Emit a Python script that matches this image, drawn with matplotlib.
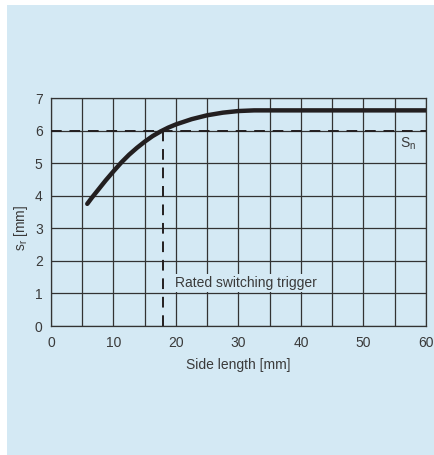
import matplotlib
matplotlib.use("Agg")
import matplotlib.pyplot as plt
from matplotlib.patches import Rectangle

plt.rcParams['font.family'] = ['Liberation Sans', 'DejaVu Sans']
plt.rcParams['mathtext.fontset'] = 'custom'
plt.rcParams['mathtext.rm'] = 'Liberation Sans'
plt.rcParams['mathtext.it'] = 'Liberation Sans'

# Data
side_length = [5.8, 6.5, 7.5, 8.75, 10, 11.25, 12.5, 13.75, 15, 16.25, 17.5, 18.75,
               20, 22.5, 25, 27.5, 30, 32.5, 35, 40, 50, 60]
s_r = [3.75, 3.93, 4.17, 4.47, 4.75, 5.02, 5.26, 5.47, 5.66, 5.83, 5.97, 6.09,
       6.19, 6.35, 6.47, 6.55, 6.60, 6.62, 6.62, 6.62, 6.62, 6.62]
s_n = 6.0
rated_x = 18.0
x_ticks = [0, 10, 20, 30, 40, 50, 60]
y_ticks = [0, 1, 2, 3, 4, 5, 6, 7]
x_grid = [0, 5, 10, 15, 20, 25, 30, 35, 40, 45, 50, 55, 60]

BLUE = '#d4e9f4'
DARK = '#231f20'
TXT = '#3a3a3a'

W, H = 435, 455
fig = plt.figure(figsize=(W / 100, H / 100), dpi=100)
fig.patch.set_facecolor('white')
fig.patches.append(Rectangle((7 / W, 0), 1 - 7 / W, 1 - 5 / H, transform=fig.transFigure,
                             facecolor=BLUE, edgecolor='none', zorder=-10))

ax = fig.add_axes([51 / W, 1 - 326 / H, (426 - 51) / W, (326 - 98) / H])
ax.set_facecolor(BLUE)
ax.set_xlim(0, 60)
ax.set_ylim(0, 7)

# grid
for gx in x_grid:
    ax.axvline(gx, color='#333333', lw=0.9, zorder=1)
for gy in y_ticks:
    ax.axhline(gy, color='#333333', lw=0.9, zorder=1)

for sp in ax.spines.values():
    sp.set_color('#333333')
    sp.set_linewidth(0.9)

ax.set_xticks(x_ticks)
ax.set_yticks(y_ticks)
ax.tick_params(length=0, labelsize=10, labelcolor=TXT)
ax.tick_params(axis='x', pad=7)
ax.tick_params(axis='y', pad=6)

# dashed reference lines
ax.plot([0, 60], [s_n, s_n], color=DARK, lw=1.4, ls=(0, (5.5, 4)), zorder=3)
ax.plot([rated_x, rated_x], [0, s_n], color=DARK, lw=1.4, ls=(0, (5.5, 4)), zorder=3)

# curve
ax.plot(side_length, s_r, color=DARK, lw=3.2, solid_capstyle='round',
        solid_joinstyle='round', zorder=4)

ax.text(19.8, 1.32, 'Rated switching trigger', fontsize=10, color=TXT, va='center', ha='left',
        bbox=dict(facecolor=BLUE, edgecolor='none', pad=1.5), zorder=5)
ax.text(55.8, 5.6, r'S$_\mathrm{n}$', fontsize=10, color=TXT, va='center', ha='left', zorder=5)

ax.set_xlabel('Side length [mm]', fontsize=10, color=TXT, labelpad=6)
ax.set_ylabel(r's$_\mathrm{r}$ [mm]', fontsize=10, color=TXT)
ax.yaxis.set_label_coords(-0.056, 0.43)

fig.savefig('out.png', dpi=100, facecolor=fig.get_facecolor())
